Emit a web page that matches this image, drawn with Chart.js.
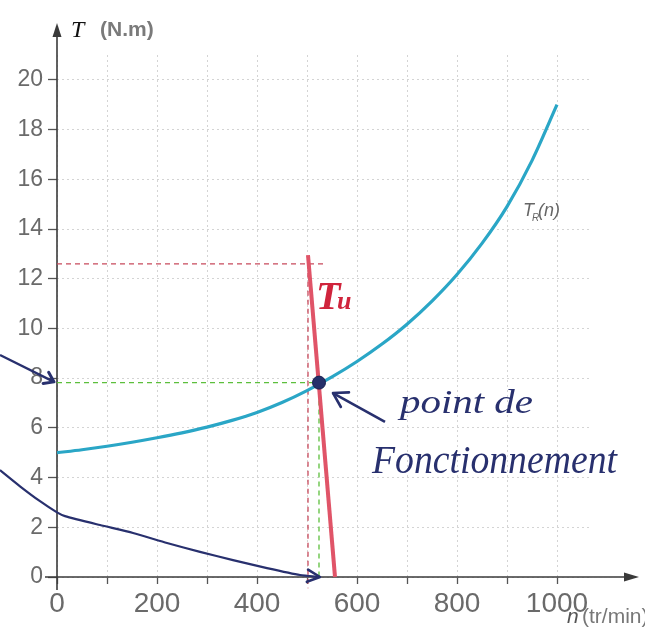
<!DOCTYPE html>
<html>
<head>
<meta charset="utf-8">
<script src="https://cdn.jsdelivr.net/npm/chart.js@4.4.1/dist/chart.umd.min.js"></script>
<style>
  html, body { margin: 0; padding: 0; background: #ffffff; }
  #wrap { width: 645px; height: 637px; position: relative; }
</style>
</head>
<body>
<div id="wrap"><canvas id="c" width="645" height="637"></canvas></div>
<script>
// ---- data ----
const nTickValues = [0, 100, 200, 300, 400, 500, 600, 700, 800, 900, 1000];
const tTickValues = [0, 2, 4, 6, 8, 10, 12, 14, 16, 18, 20];

// load torque curve Tr(n)
const trN = [0, 50, 100, 150, 200, 250, 300, 350, 400, 450, 500, 550, 600, 650, 700, 750, 800, 850, 900, 950, 1000];
const trT = [5.0, 5.12, 5.26, 5.42, 5.6, 5.8, 6.03, 6.3, 6.62, 7.02, 7.5, 8.05, 8.67, 9.37, 10.17, 11.1, 12.17, 13.42, 14.9, 16.75, 19.0];

// motor torque line Tu
const tuN = [502, 556];
const tuT = [12.95, 0];

// operating point
const opN = [524];
const opT = [7.82];

// construction (dashed) lines
const redDashH_N = [0, 540];
const redDashH_T = [12.6, 12.6];
const redDashV_N = [502, 502];
const redDashV_T = [12.6, -0.45];
const greenDashH_N = [0, 524];
const greenDashH_T = [7.82, 7.82];
const greenDashV_N = [524, 524];
const greenDashV_T = [7.82, 0];

// hand-drawn navy arrow curve (ends on the n axis)
const navyCurveN = [-114, -74, -34, 0, 16, 86, 152, 220, 286, 352, 420, 486, 526];
const navyCurveT = [4.3, 3.65, 3.05, 2.6, 2.45, 2.09, 1.77, 1.37, 1.01, 0.68, 0.36, 0.08, 0];

// hand-drawn navy arrow pointing at T = 7.8 on the T axis
const navyArrow8N = [-114, -6];
const navyArrow8T = [8.93, 7.85];

// hand-drawn navy arrow pointing at the operating point
const navyArrowOpN = [656, 552];
const navyArrowOpT = [6.24, 7.4];

const pts = (xs, ys) => xs.map((x, i) => ({ x: x, y: ys[i] }));

const NAVY = '#28306e';
const CYAN = '#2aa6c6';
const RED = '#e05468';
const GREEN = '#5cbf3c';

function fitText(ctx, text, x, y, width, font, color) {
  ctx.save();
  ctx.font = font;
  ctx.fillStyle = color;
  ctx.textBaseline = 'alphabetic';
  ctx.textAlign = 'left';
  const w = ctx.measureText(text).width;
  ctx.translate(x, y);
  ctx.scale(width / w, 1);
  ctx.fillText(text, 0, 0);
  ctx.restore();
}

function arrowHead(ctx, xs, ys, dsN, dsT, len, spread, color, lw) {
  const k = dsN.length - 1;
  const x1 = xs.getPixelForValue(dsN[k - 1]), y1 = ys.getPixelForValue(dsT[k - 1]);
  const x2 = xs.getPixelForValue(dsN[k]), y2 = ys.getPixelForValue(dsT[k]);
  const a = Math.atan2(y2 - y1, x2 - x1);
  ctx.save();
  ctx.strokeStyle = color;
  ctx.lineWidth = lw;
  ctx.lineCap = 'round';
  ctx.lineJoin = 'round';
  ctx.beginPath();
  ctx.moveTo(x2 - len * Math.cos(a - spread), y2 - len * Math.sin(a - spread));
  ctx.lineTo(x2, y2);
  ctx.lineTo(x2 - len * Math.cos(a + spread), y2 - len * Math.sin(a + spread));
  ctx.stroke();
  ctx.restore();
}

const decor = {
  id: 'decor',
  beforeDatasetsDraw(chart) {
    const ctx = chart.ctx;
    const xs = chart.scales.x, ys = chart.scales.y;
    const x0 = xs.getPixelForValue(0), y0 = ys.getPixelForValue(0);
    ctx.save();
    ctx.strokeStyle = '#3a3a3a';
    ctx.fillStyle = '#3a3a3a';
    ctx.lineWidth = 1.6;
    // T axis
    ctx.beginPath();
    ctx.moveTo(x0, y0 + 13);
    ctx.lineTo(x0, 34);
    ctx.stroke();
    ctx.beginPath();
    ctx.moveTo(x0, 23);
    ctx.lineTo(x0 - 4.5, 37);
    ctx.lineTo(x0 + 4.5, 37);
    ctx.closePath();
    ctx.fill();
    // n axis
    ctx.beginPath();
    ctx.moveTo(45, y0);
    ctx.lineTo(628, y0);
    ctx.stroke();
    ctx.beginPath();
    ctx.moveTo(639, y0);
    ctx.lineTo(624, y0 - 4.5);
    ctx.lineTo(624, y0 + 4.5);
    ctx.closePath();
    ctx.fill();
    ctx.restore();
  },
  afterDatasetsDraw(chart) {
    const ctx = chart.ctx;
    const xs = chart.scales.x, ys = chart.scales.y;
    // arrowheads of the hand-drawn arrows
    arrowHead(ctx, xs, ys, navyCurveN, navyCurveT, 14, 0.45, NAVY, 2.6);
    arrowHead(ctx, xs, ys, navyArrow8N, navyArrow8T, 11, 0.6, NAVY, 3);
    arrowHead(ctx, xs, ys, navyArrowOpN, navyArrowOpT, 16, 0.55, NAVY, 2.6);

    // axis titles
    ctx.save();
    ctx.textBaseline = 'alphabetic';
    ctx.fillStyle = '#111';
    ctx.font = 'italic 24px "Liberation Serif", serif';
    ctx.fillText('T', 71, 37);
    ctx.fillStyle = '#7a7a7a';
    ctx.font = 'bold 21px "Liberation Sans Narrow", "Liberation Sans", sans-serif';
    ctx.fillText('(N.m)', 100, 36);

    ctx.fillStyle = '#555';
    ctx.font = 'italic 21px "Liberation Sans Narrow", "Liberation Sans", sans-serif';
    ctx.fillText('n', 567, 623);
    ctx.fillStyle = '#777';
    ctx.font = '21px "Liberation Sans Narrow", "Liberation Sans", sans-serif';
    ctx.fillText('(tr/min)', 582, 623);

    // curve label Tr(n)
    ctx.fillStyle = '#666';
    ctx.font = 'italic 18px "Liberation Sans Narrow", "Liberation Sans", sans-serif';
    ctx.fillText('T', 523, 216);
    ctx.font = 'italic 10px "Liberation Sans Narrow", "Liberation Sans", sans-serif';
    ctx.fillText('R', 532, 221);
    ctx.font = 'italic 18px "Liberation Sans Narrow", "Liberation Sans", sans-serif';
    ctx.fillText('(n)', 538, 216);
    ctx.restore();

    // hand-written notes
    ctx.save();
    ctx.fillStyle = '#d0243c';
    ctx.font = 'bold italic 40px "Liberation Serif", serif';
    ctx.fillText('T', 316, 309);
    ctx.font = 'bold italic 26px "Liberation Serif", serif';
    ctx.fillText('u', 337, 309);
    ctx.restore();
    fitText(ctx, 'point de', 400, 413, 133, 'italic 34px "Liberation Serif", serif', NAVY);
    fitText(ctx, 'Fonctionnement', 372, 473, 245, 'italic 40px "Liberation Serif", serif', NAVY);
  }
};

const dashed = (data, color) => ({
  data: data, borderColor: color, borderWidth: 1.3, borderDash: [5, 4],
  pointRadius: 0, fill: false, tension: 0, clip: false, order: 5
});

// the navy curve starts left of n = 0; feed it in reverse order so that
// Chart.js does not trim the points lying outside the axis range
const navyCurveData = pts(navyCurveN, navyCurveT).reverse();

new Chart(document.getElementById('c'), {
  type: 'line',
  data: {
    datasets: [
      dashed(pts(redDashH_N, redDashH_T), '#c84a5c'),
      dashed(pts(redDashV_N, redDashV_T), '#c84a5c'),
      dashed(pts(greenDashH_N, greenDashH_T), GREEN),
      dashed(pts(greenDashV_N, greenDashV_T), GREEN),
      {
        label: 'Tr(n)', data: pts(trN, trT), borderColor: CYAN, borderWidth: 3.2,
        pointRadius: 0, tension: 0.4, cubicInterpolationMode: 'monotone', fill: false, order: 3
      },
      {
        label: 'Tu', data: pts(tuN, tuT), borderColor: RED, borderWidth: 4,
        pointRadius: 0, tension: 0, fill: false, clip: false, order: 2
      },
      {
        label: 'navy curve', data: navyCurveData, borderColor: NAVY, borderWidth: 2.2,
        pointRadius: 0, tension: 0.2, fill: false, clip: false, order: 1
      },
      {
        label: 'navy arrow 8', data: pts(navyArrow8N, navyArrow8T), borderColor: NAVY, borderWidth: 2.4,
        pointRadius: 0, tension: 0, fill: false, clip: false, order: 1
      },
      {
        label: 'navy arrow op', data: pts(navyArrowOpN, navyArrowOpT).reverse(), borderColor: NAVY, borderWidth: 2.6,
        pointRadius: 0, tension: 0, fill: false, clip: false, order: 1
      },
      {
        label: 'point de fonctionnement', data: pts(opN, opT), showLine: false,
        pointRadius: 6.5, pointBackgroundColor: '#26306a', pointBorderColor: '#1a2050',
        pointBorderWidth: 1, order: 0
      }
    ]
  },
  options: {
    responsive: false,
    animation: false,
    devicePixelRatio: 1,
    layout: { padding: { top: 55, right: 53, left: 0, bottom: 0 } },
    plugins: { legend: { display: false }, tooltip: { enabled: false } },
    scales: {
      x: {
        type: 'linear', min: 0, max: 1070,
        afterBuildTicks: (s) => { s.ticks = nTickValues.map(v => ({ value: v })); },
        afterFit: (s) => { s.height = 60; },
        ticks: {
          autoSkip: false, maxRotation: 0, padding: 3, color: '#6a6a6a',
          font: { family: '"Liberation Sans Narrow", "Liberation Sans", sans-serif', size: 28 },
          callback: (v) => (v % 200 === 0 ? String(v) : '')
        },
        grid: { color: '#d4d4d4', lineWidth: 1, tickLength: 7, tickColor: '#555', tickWidth: 1.3 },
        border: { display: false, dash: [2, 3] }
      },
      y: {
        type: 'linear', min: 0, max: 21,
        afterBuildTicks: (s) => { s.ticks = tTickValues.map(v => ({ value: v })); },
        afterFit: (s) => { s.width = 57; },
        ticks: {
          autoSkip: false, padding: 5, color: '#6a6a6a',
          font: { family: '"Liberation Sans", sans-serif', size: 23 },
          callback: (v) => String(v)
        },
        grid: { color: '#d4d4d4', lineWidth: 1, tickLength: 9, tickColor: '#555', tickWidth: 1.3 },
        border: { display: false, dash: [2, 3] }
      }
    }
  },
  plugins: [decor]
});
</script>
</body>
</html>
